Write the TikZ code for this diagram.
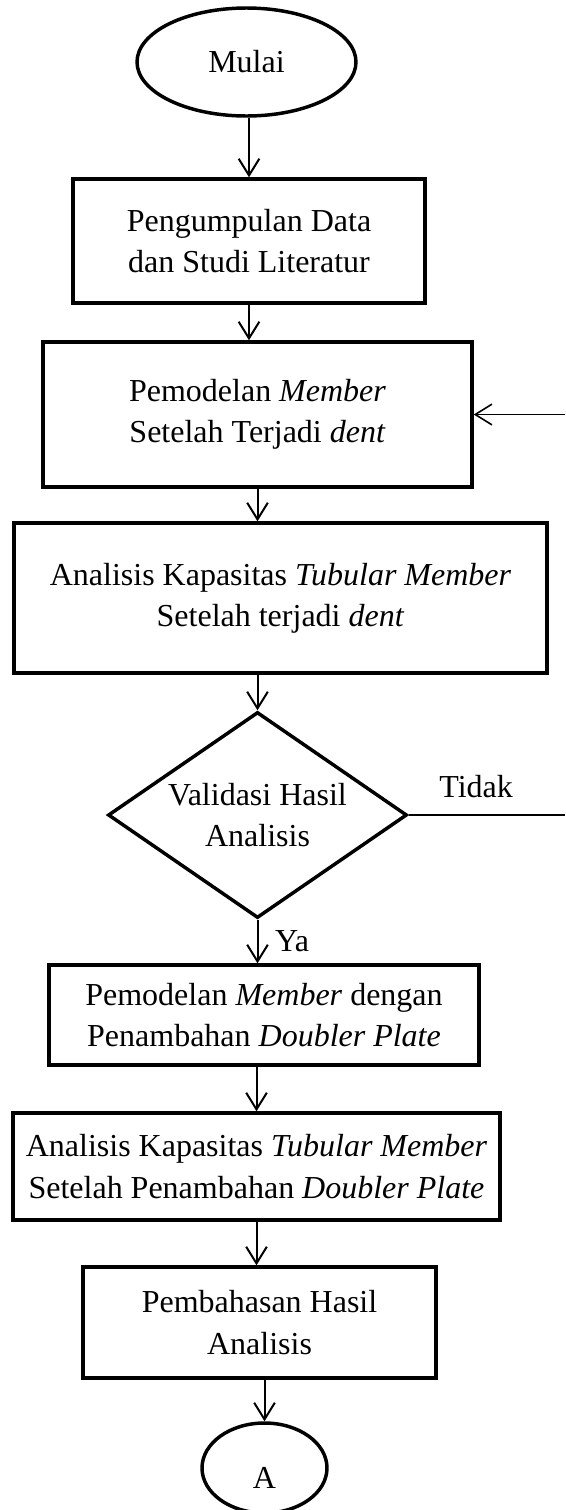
\documentclass[tikz,border=0pt]{standalone}
\usepackage{fontspec}
\setmainfont{Liberation Serif}
\usetikzlibrary{shapes.geometric}
\usetikzlibrary{arrows.meta}
\tikzset{every picture/.style={line width=0.75pt}}
\tikzset{
  teks/.style={font=\fontsize{24pt}{31pt}\selectfont, align=center},
  terminal/.style={teks, draw, ellipse, line width=2.6pt, inner sep=0pt},
  proses/.style={teks, draw, rectangle, line width=2.6pt, inner sep=2pt},
  keputusan/.style={teks, draw, diamond, aspect=1.45, line width=2.6pt, inner sep=0pt},
  panah/.style={line width=1.5pt, -{Straight Barb[length=12.5pt,width=15.5pt]}},
  ket/.style={font=\fontsize{24pt}{31pt}\selectfont, inner sep=0pt, anchor=base west},
}

\begin{document}
\begin{tikzpicture}[x=0.75pt,y=0.75pt,yscale=-1,xscale=1]
\useasboundingbox (0,0) rectangle (565,1510);

%Flowchart: Terminator
\node [terminal, minimum width=164.25pt, minimum height=81pt] (mulai) at (246.5,62) {Mulai};
%Flowchart: Process
\node [proses, minimum width=264pt, minimum height=93pt] (studi) at (249,241) {Pengumpulan Data\\dan Studi Literatur};
%Flowchart: Process
\node [proses, minimum width=321.75pt, minimum height=108.75pt] (modelDent) at (257.5,414.5) {Pemodelan \textit{Member}\\Setelah Terjadi \textit{dent}};
%Flowchart: Process
\node [proses, minimum width=399.75pt, minimum height=112.5pt] (analisisDent) at (280.5,598) {Analisis Kapasitas \textit{Tubular Member}\\Setelah terjadi \textit{dent}};
%Flowchart: Decision
\node [keputusan, minimum width=224.25pt, minimum height=154.5pt] (validasi) at (257.5,815) {Validasi Hasil\\Analisis};
%Flowchart: Process
\node [proses, minimum width=322.5pt, minimum height=75pt] (modelPlate) at (264,1015) {Pemodelan \textit{Member} dengan\\Penambahan \textit{Doubler Plate}};
%Flowchart: Process
\node [proses, minimum width=365.25pt, minimum height=80.25pt] (analisisPlate) at (256.5,1166.5) {Analisis Kapasitas \textit{Tubular Member}\\Setelah Penambahan \textit{Doubler Plate}};
%Flowchart: Process
\node [proses, minimum width=264.75pt, minimum height=83.25pt] (bahas) at (259.5,1322.5) {Pembahasan Hasil\\Analisis};
%Flowchart: Connector
\node [terminal, minimum width=93.75pt, minimum height=67.5pt, text height=31pt, text depth=0pt] (konektorA) at (264.5,1468) {A};

%free ends at the right margin
\coordinate (balikKanan) at (565,414.5);
\coordinate (tidakKanan) at (565,815);

%Straight Lines
\draw [panah] (studi.north |- mulai.south) -- (studi.north);
\draw [panah] (studi.south) -- (studi.south |- modelDent.north);
\draw [panah] (modelDent.south) -- (modelDent.south |- analisisDent.north);
\draw [panah] (validasi.north |- analisisDent.south) -- (validasi.north);
\draw [panah] (validasi.south) -- (validasi.south |- modelPlate.north)
  node [ket, pos=0, xshift=12.4pt, yshift=-24pt] (ya) {Ya};
\draw [panah] (analisisPlate.north |- modelPlate.south) -- (analisisPlate.north);
\draw [panah] (analisisPlate.south) -- (analisisPlate.south |- bahas.north);
\draw [panah] (konektorA.north |- bahas.south) -- (konektorA.north);
%Straight Lines
\draw [line width=1pt] (validasi.east) -- (validasi.east -| tidakKanan)
  node [ket, pos=0, xshift=22.5pt, yshift=13.5pt] (tidak) {Tidak};
\draw [panah, line width=1.2pt] (balikKanan) -- (balikKanan -| modelDent.east);

\end{tikzpicture}
\end{document}
